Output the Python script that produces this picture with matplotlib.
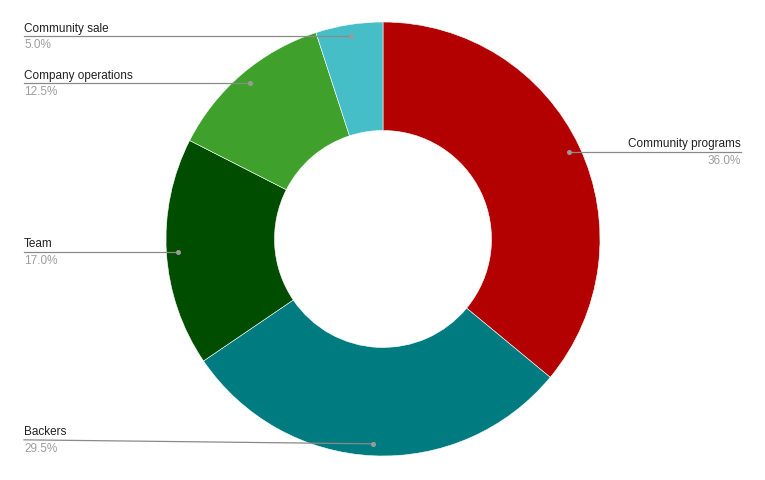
import numpy as np
import matplotlib.pyplot as plt

# slice data, clockwise from 12 o'clock
labels = ["Community programs", "Backers", "Team", "Company operations", "Community sale"]
values = [36.0, 29.5, 17.0, 12.5, 5.0]
colors = ["#b30000", "#007b80", "#004d00", "#3fa12b", "#46bec8"]

# layout (pixels, figure is 765x481)
W, H = 765, 481
cx, cy = 383, 240
r_out = 217
hole = 0.5
# x where each label's leader line ends, and side of text
label_x = [741, 24, 24, 24, 24]
label_dy = [0, -4, 0, 0, 0]   # backer's leader line is slightly tilted

plt.rcParams["font.family"] = ["Liberation Sans", "DejaVu Sans"]

fig = plt.figure(figsize=(W / 100, H / 100), dpi=100)
ax = fig.add_axes([0, 0, 1, 1])
ax.set_xlim(0, W)
ax.set_ylim(H, 0)
ax.axis("off")

# draw wedges manually so the inverted y axis stays clockwise
from matplotlib.patches import Wedge
total = sum(values)
start = 90.0
mids = []
for v, c in zip(values, colors):
    sweep = v / total * 360
    # y is inverted, so visual clockwise = increasing math angle here
    t1 = -start
    t2 = -start + sweep
    ax.add_patch(Wedge((cx, cy), r_out, t1, t2, width=r_out * hole,
                       facecolor=c, edgecolor="white", linewidth=0.4))
    mids.append(np.deg2rad(-start + sweep / 2))
    start -= sweep

r_dot = r_out * 0.945
for lab, v, m, lx, dy in zip(labels, values, mids, label_x, label_dy):
    px = cx + r_dot * np.cos(m)
    py = cy + r_dot * np.sin(m)
    ly = py + dy
    ax.plot([lx, px], [ly, py], color="#8a8a8a", lw=0.9, zorder=3)
    ax.plot(px, py, "o", ms=2.6, color="#9a9a9a", zorder=4)
    ha = "left" if lx < cx else "right"
    ax.text(lx, ly - 2.5, lab, ha=ha, va="bottom", fontsize=8.5, color="#222222")
    ax.text(lx, ly + 2, f"{v:.1f}%", ha=ha, va="top", fontsize=8.5, color="#9e9e9e")

fig.savefig("out.png", dpi=100)
